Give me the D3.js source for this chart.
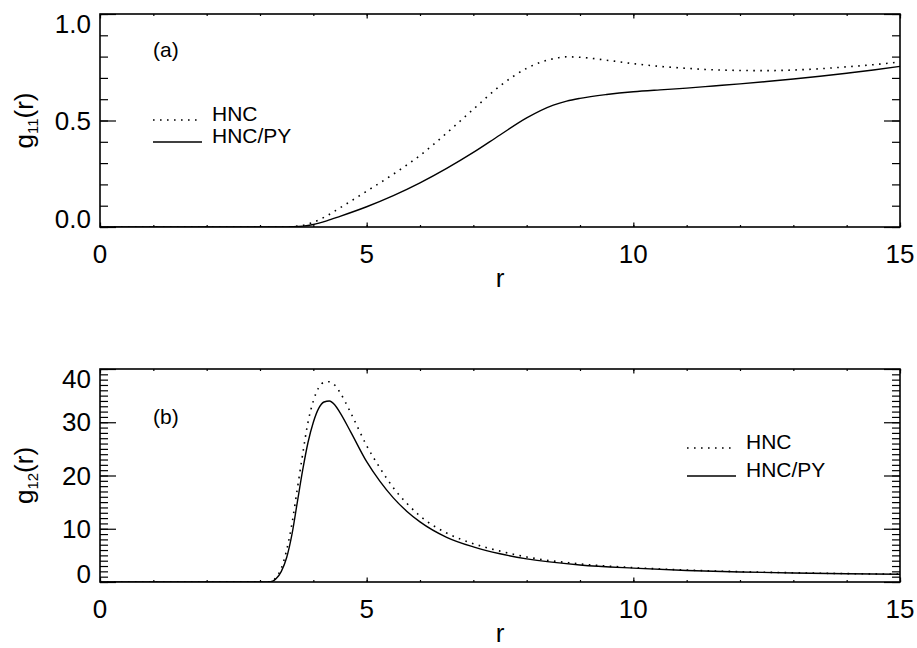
<!DOCTYPE html>
<html>
<head>
<meta charset="utf-8">
<script src="https://cdn.jsdelivr.net/npm/d3@7"></script>
<style>
  body { margin: 0; background: #fff; }
  svg text { font-family: "Liberation Sans", Arial, Helvetica, sans-serif; fill: #000; }
</style>
</head>
<body>
<svg id="chart" width="917" height="648"></svg>
<script>
// panel (a): g11(r)
const r11 = [0, 3.4, 3.6, 3.8, 4.0, 4.25, 4.5, 5.0, 5.5, 6.0, 6.5, 7.0, 7.5, 8.0, 8.5, 8.75, 9.0, 9.5, 10, 10.5, 11, 11.5, 12, 12.5, 13, 13.5, 14, 14.5, 15];
const hnc11 = [0, 0, 0.002, 0.008, 0.022, 0.052, 0.09, 0.168, 0.248, 0.336, 0.441, 0.553, 0.662, 0.745, 0.79, 0.799, 0.797, 0.783, 0.767, 0.754, 0.745, 0.738, 0.735, 0.734, 0.737, 0.743, 0.752, 0.762, 0.775];
const hncpy11 = [0, 0, 0.001, 0.004, 0.012, 0.029, 0.05, 0.095, 0.147, 0.207, 0.275, 0.35, 0.432, 0.512, 0.572, 0.591, 0.604, 0.622, 0.635, 0.644, 0.652, 0.662, 0.672, 0.683, 0.695, 0.708, 0.722, 0.737, 0.754];

// panel (b): g12(r)
const r12 = [0, 3.1, 3.2, 3.3, 3.4, 3.5, 3.6, 3.7, 3.8, 3.9, 4.0, 4.1, 4.2, 4.3, 4.4, 4.5, 4.7, 5.0, 5.25, 5.5, 5.75, 6.0, 6.5, 7.0, 7.5, 8, 9, 10, 11, 12, 13, 14, 15];
const hnc12 = [0, 0, 0.08, 0.8, 2.6, 6.0, 11.0, 17.5, 24.0, 30.0, 34.0, 36.5, 37.5, 37.6, 37.0, 35.6, 31.8, 25.6, 21.4, 17.7, 14.8, 12.4, 9.2, 7.2, 5.8, 4.7, 3.4, 2.7, 2.24, 1.94, 1.73, 1.58, 1.47];
const hncpy12 = [0, 0, 0.05, 0.6, 2.0, 4.6, 9.0, 15.0, 21.0, 26.2, 30.0, 32.6, 33.8, 34.0, 33.3, 31.8, 28.2, 22.6, 18.9, 15.8, 13.3, 11.3, 8.4, 6.6, 5.3, 4.35, 3.2, 2.6, 2.17, 1.89, 1.7, 1.55, 1.45];

const xTicks = [0, 5, 10, 15];
const legendNames = ["HNC", "HNC/PY"];

const DOTS = "1.6,5.4";
const svg = d3.select("#chart");

function drawPanel(p) {
  var g = svg.append("g");
  var x = d3.scaleLinear().domain([0, 15]).range([100, 900]);
  var y = d3.scaleLinear().domain(p.yDomain).range([p.bottom, p.top]);

  var xMinor = d3.range(0, 15.001, 1);
  var yMinor = d3.range(p.yDomain[0], p.yDomain[1] + 1e-9, p.yMinorStep);

  // ticks, IDL style: on all four sides, pointing in
  var axes = [
    [d3.axisBottom(x).tickValues(xMinor).tickSize(-2), p.bottom, "x"],
    [d3.axisBottom(x).tickValues(xTicks).tickSize(-4.5), p.bottom, "x"],
    [d3.axisTop(x).tickValues(xMinor).tickSize(-2), p.top, "x"],
    [d3.axisTop(x).tickValues(xTicks).tickSize(-4.5), p.top, "x"],
    [d3.axisLeft(y).tickValues(yMinor).tickSize(-8), 100, "y"],
    [d3.axisLeft(y).tickValues(p.yTicks).tickSize(-16), 100, "y"],
    [d3.axisRight(y).tickValues(yMinor).tickSize(-8), 900, "y"],
    [d3.axisRight(y).tickValues(p.yTicks).tickSize(-16), 900, "y"],
  ];
  axes.forEach(([ax, pos, dir]) => {
    var a = g.append("g")
      .attr("transform", dir === "x" ? `translate(0,${pos})` : `translate(${pos},0)`)
      .call(ax.tickFormat(""));
    a.select(".domain").remove();
    a.selectAll("line").attr("stroke", "#000").attr("stroke-width", 1.2);
  });

  // frame
  g.append("rect")
    .attr("x", 100).attr("y", p.top)
    .attr("width", 800).attr("height", p.bottom - p.top)
    .attr("fill", "none").attr("stroke", "#000").attr("stroke-width", 1.6);

  // tick labels
  g.selectAll(".xl").data(xTicks).enter().append("text")
    .attr("x", (d) => x(d)).attr("y", p.bottom + 36)
    .attr("text-anchor", "middle").style("font-size", "26px")
    .text((d) => d);

  g.selectAll(".yl").data(p.yTicks).enter().append("text")
    .attr("x", 91)
    .attr("y", (d) => Math.min(Math.max(y(d), p.top + 10), p.bottom - 8))
    .attr("dy", "0.35em")
    .attr("text-anchor", "end").style("font-size", "26px")
    .text((d) => d3.format(p.yFmt)(d));

  // axis titles
  g.append("text")
    .attr("x", 500).attr("y", p.bottom + 60)
    .attr("text-anchor", "middle").style("font-size", "26px")
    .text("r");

  var yt = g.append("text")
    .attr("transform", `translate(33,${(p.top + p.bottom) / 2}) rotate(-90)`)
    .attr("text-anchor", "middle").style("font-size", "26px");
  yt.append("tspan").text("g");
  yt.append("tspan").attr("dy", 5).style("font-size", "15px").text(p.sub);
  yt.append("tspan").attr("dy", -5).text("(r)");

  // curves
  var line = d3.line()
    .x((d) => x(d[0]))
    .y((d) => y(d[1]))
    .curve(d3.curveMonotoneX);

  var clipId = "clip-" + p.sub;
  g.append("clipPath").attr("id", clipId).append("rect")
    .attr("x", 100).attr("y", p.top).attr("width", 800).attr("height", p.bottom - p.top);

  g.append("path")
    .datum(p.r.map((r, i) => [r, p.hnc[i]]))
    .attr("d", line)
    .attr("clip-path", `url(#${clipId})`)
    .attr("fill", "none").attr("stroke", "#000")
    .attr("stroke-width", 1.6).attr("stroke-dasharray", DOTS);

  g.append("path")
    .datum(p.r.map((r, i) => [r, p.py[i]]))
    .attr("d", line)
    .attr("clip-path", `url(#${clipId})`)
    .attr("fill", "none").attr("stroke", "#000").attr("stroke-width", 1.4);

  // panel label
  g.append("text")
    .attr("x", 153).attr("y", p.labelY)
    .style("font-size", "21px").text(p.label);

  // legend
  var lg = g.append("g");
  legendNames.forEach((name, i) => {
    var ly = p.legY + i * p.legStep;
    lg.append("line")
      .attr("x1", p.legX).attr("x2", p.legX + 49)
      .attr("y1", ly).attr("y2", ly)
      .attr("stroke", "#000")
      .attr("stroke-width", i === 0 ? 1.6 : 1.4)
      .attr("stroke-dasharray", i === 0 ? DOTS : null);
    lg.append("text")
      .attr("x", p.legX + 59).attr("y", ly + 1)
      .style("font-size", "21px").text(name);
  });
}

drawPanel({
  top: 14, bottom: 227,
  yDomain: [0, 1], yTicks: [0, 0.5, 1], yMinorStep: 0.1, yFmt: ".1f",
  sub: "11", r: r11, hnc: hnc11, py: hncpy11,
  label: "(a)", labelY: 57,
  legX: 153, legY: 120, legStep: 22,
});

drawPanel({
  top: 369, bottom: 582,
  yDomain: [0, 40], yTicks: [0, 10, 20, 30, 40], yMinorStep: 1, yFmt: "d",
  sub: "12", r: r12, hnc: hnc12, py: hncpy12,
  label: "(b)", labelY: 424,
  legX: 687, legY: 448, legStep: 28,
});
</script>
</body>
</html>
